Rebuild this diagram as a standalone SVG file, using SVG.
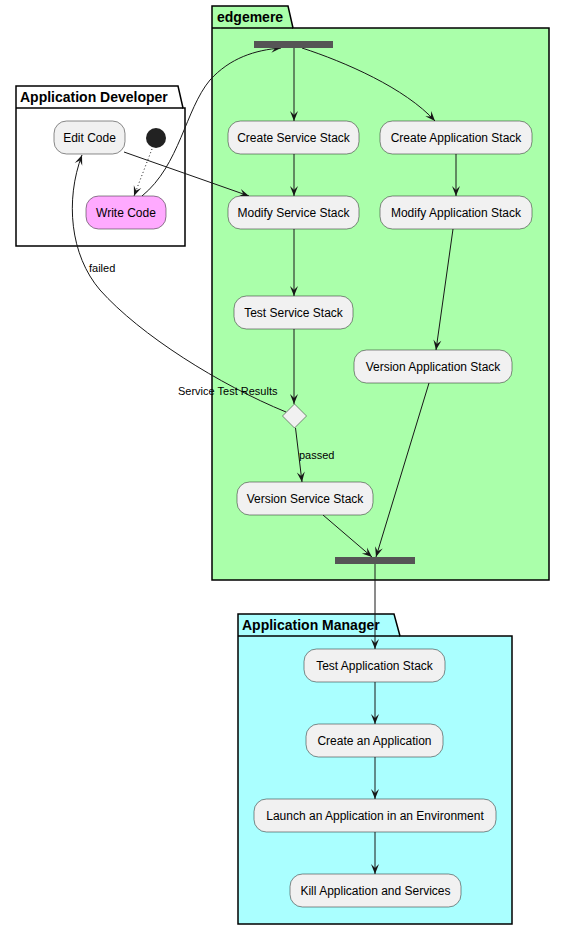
<svg xmlns="http://www.w3.org/2000/svg" width="565" height="930" viewBox="0 0 565 930">
<style>
.pkg{stroke:#000;stroke-width:1.5}
.ptitle{font-family:"Liberation Sans",Arial,sans-serif;font-size:14px;font-weight:bold;fill:#000}
.act{fill:#F1F1F1;stroke:#181818;stroke-width:0.5}
.t{font-family:"Liberation Sans",Arial,sans-serif;font-size:12px;fill:#000;text-anchor:middle}
.lbl{font-family:"Liberation Sans",Arial,sans-serif;font-size:11px;fill:#000}
.c{fill:none;stroke:#181818;stroke-width:1}
.bar{fill:#555555}
</style>
<defs>
<marker id="ah" viewBox="-11 -5 12 10" refX="0" refY="0" markerWidth="12" markerHeight="10" markerUnits="userSpaceOnUse" orient="auto">
<path d="M0,0 L-10,-4 L-6,0 L-10,4 Z" fill="#181818"/>
</marker>
</defs>
<g id="pkg-edgemere">
<path class="pkg" fill="#AAFFAA" d="M212,6 L288,6 L293,28 L549,28 L549,580 L212,580 Z"/>
<line class="pkg" x1="212" y1="28" x2="293" y2="28"/>
<text class="ptitle" x="217" y="22">edgemere</text>
</g>
<g id="pkg-appdev">
<path class="pkg" fill="#FFFFFF" d="M16,86 L178,86 L183,108 L185,108 L185,246 L16,246 Z"/>
<line class="pkg" x1="16" y1="108" x2="183" y2="108"/>
<text class="ptitle" x="20" y="102">Application Developer</text>
</g>
<g id="pkg-appmgr">
<path class="pkg" fill="#AAFFFF" d="M238,614 L394,614 L400,636 L512,636 L512,924 L238,924 Z"/>
<line class="pkg" x1="238" y1="636" x2="400" y2="636"/>
<text class="ptitle" x="242" y="630">Application Manager</text>
</g>
<g id="connectors">
<path class="c" marker-end="url(#ah)" d="M294,48 L294,121"/>
<path class="c" marker-end="url(#ah)" d="M302,48 C345,62 405,88 435,121"/>
<path class="c" marker-end="url(#ah)" d="M294,154 L294,196"/>
<path class="c" marker-end="url(#ah)" d="M456,154 L456,196"/>
<path class="c" marker-end="url(#ah)" d="M294,229 L294,296"/>
<path class="c" marker-end="url(#ah)" d="M294,329 L294,404"/>
<path class="c" marker-end="url(#ah)" d="M453,229 L436,350"/>
<path class="c" marker-end="url(#ah)" d="M295.5,428 L302,482"/>
<path class="c" marker-end="url(#ah)" d="M323,515 L372,557"/>
<path class="c" marker-end="url(#ah)" d="M429,383 L376,557"/>
<path class="c" marker-end="url(#ah)" d="M375,564 L375,649"/>
<path class="c" marker-end="url(#ah)" d="M375,682 L375,724"/>
<path class="c" marker-end="url(#ah)" d="M375,757 L375,799"/>
<path class="c" marker-end="url(#ah)" d="M375,832 L375,874"/>
<path class="c" stroke-dasharray="1,2.5" marker-end="url(#ah)" d="M152,149 L134,196"/>
<path class="c" marker-end="url(#ah)" d="M142,196 C180,165 185,110 210,80 C230,58 255,50 281,48"/>
<path class="c" marker-end="url(#ah)" d="M124,152 L249,196"/>
<path class="c" marker-end="url(#ah)" d="M286,412 C220,385 140,335 100,290 C70,255 65,200 82,155"/>
<text class="lbl" x="299" y="459">passed</text>
<text class="lbl" x="89" y="272">failed</text>
<text class="lbl" x="178" y="395">Service Test Results</text>
</g>
<g id="fork"><rect class="bar" x="254" y="41" width="79" height="7"/></g>
<g id="join"><rect class="bar" x="335" y="557" width="80" height="7"/></g>
<g id="start"><circle cx="156" cy="138" r="10" fill="#222222"/></g>
<g id="edit-code"><rect class="act" x="54" y="121" width="71" height="33" rx="12.5"/><text class="t" x="89.5" y="142">Edit Code</text></g>
<g id="write-code"><rect class="act" style="fill:#FFAAFF" x="86" y="196" width="80" height="33" rx="12.5"/><text class="t" x="126" y="217">Write Code</text></g>
<g id="create-service-stack"><rect class="act" x="228" y="121" width="131" height="33" rx="12.5"/><text class="t" x="293.5" y="142">Create Service Stack</text></g>
<g id="modify-service-stack"><rect class="act" x="228" y="196" width="131" height="33" rx="12.5"/><text class="t" x="293.5" y="217">Modify Service Stack</text></g>
<g id="test-service-stack"><rect class="act" x="234" y="296" width="119" height="33" rx="12.5"/><text class="t" x="293.5" y="317">Test Service Stack</text></g>
<g id="decision"><path class="act" d="M294.5,404 L306.5,416 L294.5,428 L282.5,416 Z"/></g>
<g id="version-service-stack"><rect class="act" x="237" y="482" width="136" height="33" rx="12.5"/><text class="t" x="305" y="503">Version Service Stack</text></g>
<g id="create-application-stack"><rect class="act" x="380" y="121" width="152" height="33" rx="12.5"/><text class="t" x="456" y="142">Create Application Stack</text></g>
<g id="modify-application-stack"><rect class="act" x="380" y="196" width="152" height="33" rx="12.5"/><text class="t" x="456" y="217">Modify Application Stack</text></g>
<g id="version-application-stack"><rect class="act" x="354" y="350" width="158" height="33" rx="12.5"/><text class="t" x="433" y="371">Version Application Stack</text></g>
<g id="test-application-stack"><rect class="act" x="304" y="649" width="141" height="33" rx="12.5"/><text class="t" x="374.5" y="670">Test Application Stack</text></g>
<g id="create-an-application"><rect class="act" x="306" y="724" width="137" height="33" rx="12.5"/><text class="t" x="374.5" y="745">Create an Application</text></g>
<g id="launch-application"><rect class="act" x="254" y="799" width="242" height="33" rx="12.5"/><text class="t" x="375" y="820">Launch an Application in an Environment</text></g>
<g id="kill-application"><rect class="act" x="290" y="874" width="171" height="33" rx="12.5"/><text class="t" x="375.5" y="895">Kill Application and Services</text></g>
</svg>
